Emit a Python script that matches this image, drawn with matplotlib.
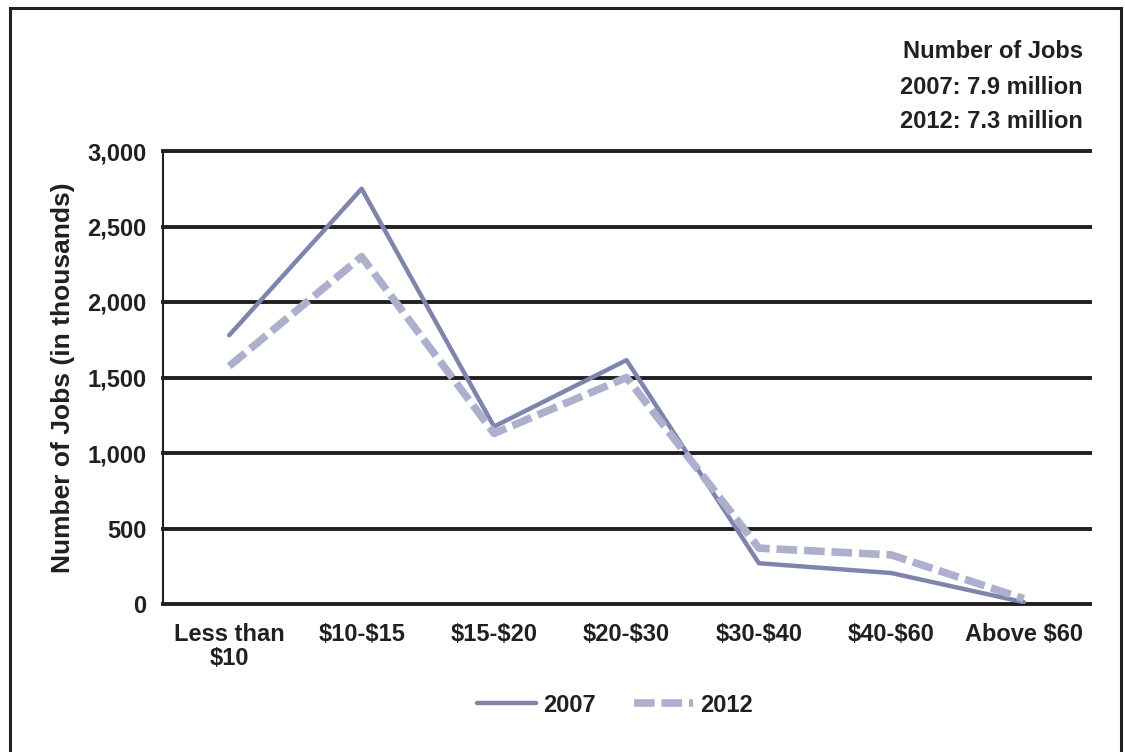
import matplotlib
matplotlib.use("Agg")
import matplotlib.pyplot as plt
from matplotlib.patches import Rectangle

categories = ["Less than\n$10", "$10-$15", "$15-$20", "$20-$30", "$30-$40", "$40-$60", "Above $60"]
jobs_2007 = [1780, 2750, 1175, 1615, 270, 205, 12]
jobs_2012 = [1575, 2300, 1130, 1500, 370, 325, 35]
yticks = [0, 500, 1000, 1500, 2000, 2500, 3000]
ytick_labels = ["0", "500", "1,000", "1,500", "2,000", "2,500", "3,000"]
note_lines = ["Number of Jobs", "2007: 7.9 million", "2012: 7.3 million"]

plt.rcParams['font.family'] = ['Liberation Sans', 'DejaVu Sans']
plt.rcParams['font.weight'] = 'bold'
plt.rcParams['text.parse_math'] = False

fig = plt.figure(figsize=(11.25, 7.52), dpi=100)
ax = fig.add_axes([163/1125, 1-604/752, (1090-163)/1125, (604-151)/752])

x = list(range(len(categories)))
ax.plot(x, jobs_2007, color="#7f84ad", lw=3.2, solid_capstyle='round', label="2007", zorder=3)
ax.plot(x, jobs_2012, color="#adb0cc", lw=5.5, dashes=(2.7, 0.9), label="2012", zorder=3)

ax.set_xlim(-0.5, len(categories) - 0.5)
ax.set_ylim(0, 3000)
ax.set_yticks(yticks)
ax.set_yticklabels(ytick_labels, fontsize=17, fontweight='bold', color="#231f20")
ax.set_xticks(x)
ax.set_xticklabels(categories, fontsize=17, fontweight='bold', color="#231f20", linespacing=1.05)
ax.tick_params(axis='y', length=0, pad=12)
ax.tick_params(axis='x', length=0, pad=14)
for y in yticks:
    ax.axhline(y, color="#231f20", lw=2.8, zorder=1, clip_on=False)
for s in ['top', 'right', 'bottom']:
    ax.spines[s].set_visible(False)
ax.spines['left'].set_color("#231f20")
ax.spines['left'].set_linewidth(1.5)
ax.set_ylabel("Number of Jobs (in thousands)", fontsize=19, fontweight='bold', color="#231f20", labelpad=9)

leg = fig.legend(loc='center', bbox_to_anchor=(615/1125, 1-705/752), ncol=2, frameon=False,
                 fontsize=17, handlelength=2.5, columnspacing=1.6, handletextpad=0.3)
for t in leg.get_texts():
    t.set_fontweight('bold')
    t.set_color("#231f20")

for i, line in enumerate(note_lines):
    fig.text(1083/1125, 1-(52 + 35*i)/752, line, ha='right', va='center', fontsize=17,
             fontweight='bold', color="#231f20")

fig.patches.append(Rectangle((10/1125, -0.05), (1121-10)/1125, 1.05 - 8/752, transform=fig.transFigure,
                             fill=False, edgecolor="#231f20", lw=2.2))

fig.savefig("out.png", dpi=100)
